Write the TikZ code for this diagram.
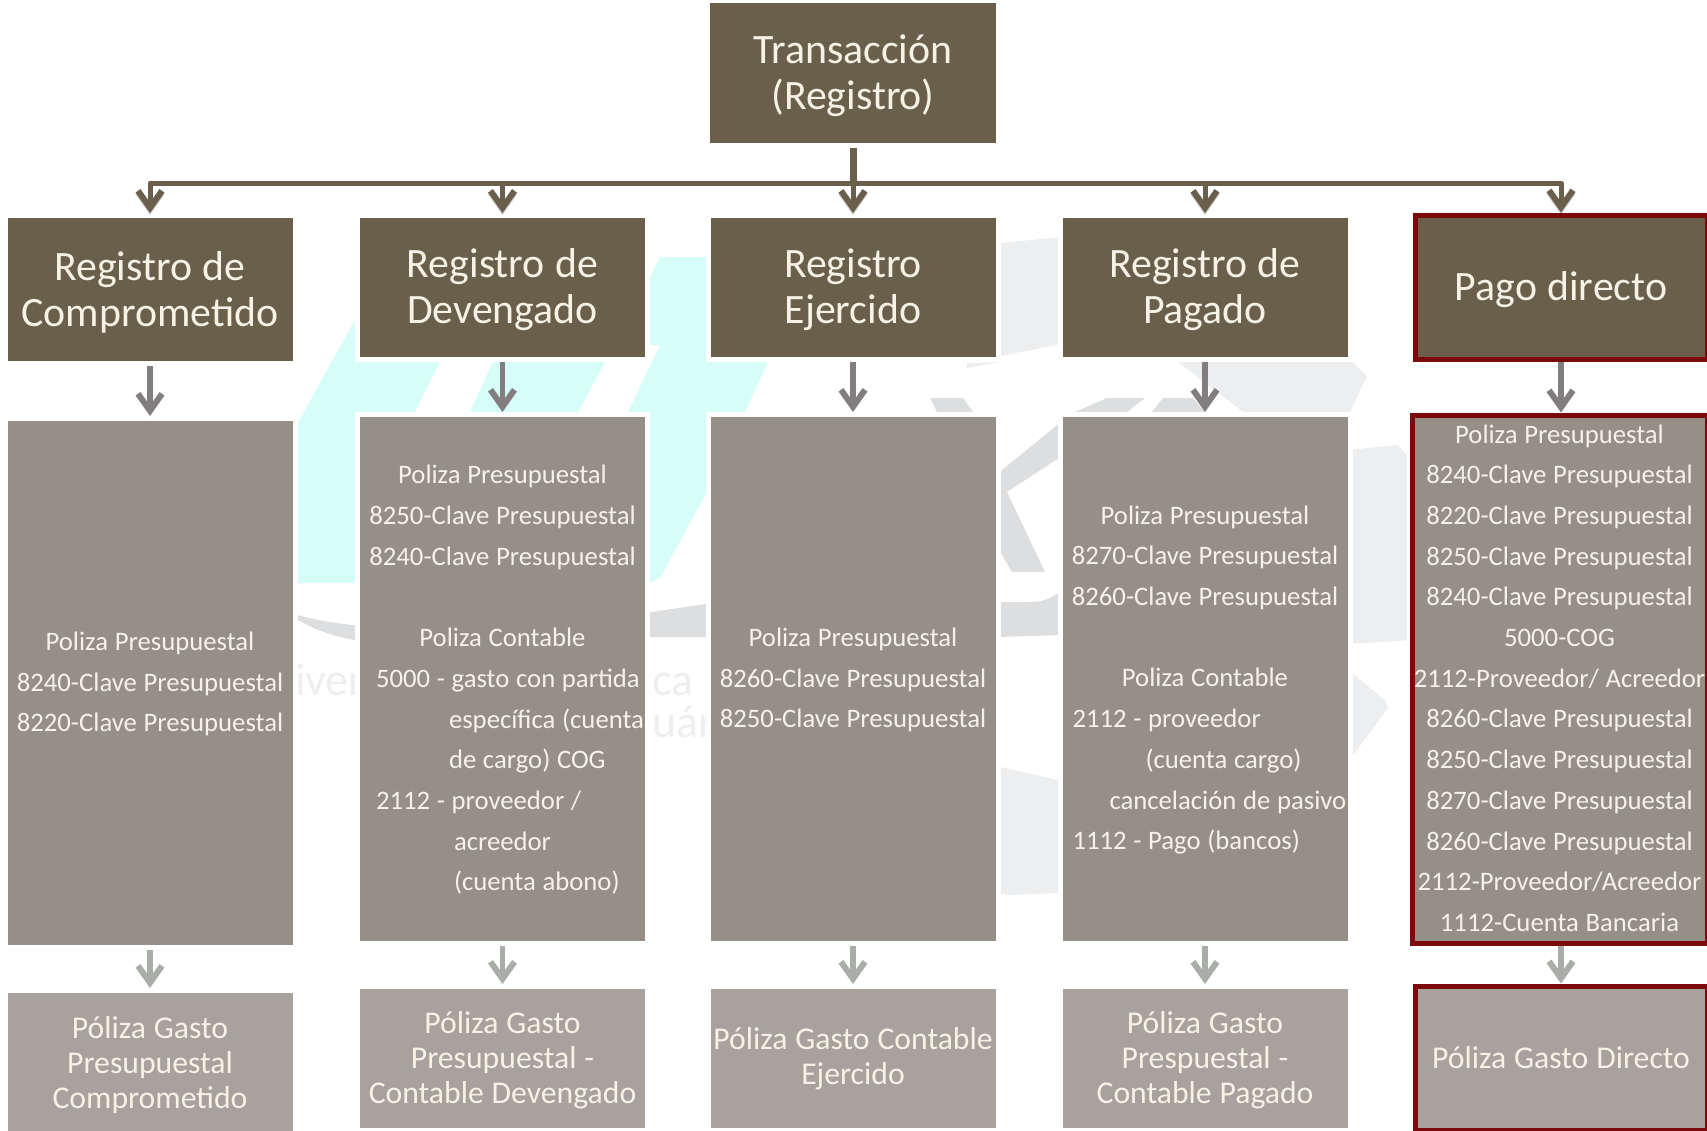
\documentclass[tikz,border=0pt]{standalone}
\usepackage{fontspec}
\setmainfont{Carlito}
\usetikzlibrary{positioning, arrows.meta}
\definecolor{dark_brown}{HTML}{6A5F4A}
\definecolor{mid_grey}{HTML}{968F88}
\definecolor{pale_grey}{HTML}{A7A29D}
\definecolor{mid_arrow_grey}{HTML}{827D7E}
\definecolor{low_arrow_grey}{HTML}{A9ADA8}
\definecolor{dark_red}{HTML}{7B0A0C}
\definecolor{cream}{HTML}{F6F2E6}
\definecolor{mark_cyan}{HTML}{D6FDF7}
\definecolor{mark_grey}{HTML}{DDDEDF}
\definecolor{mark_light}{HTML}{EDEEF0}
\newcommand{\tabline}[2]{\makebox[285pt][l]{\hspace{#1pt}#2}}

\begin{document}
\begin{tikzpicture}
[
    x=1pt, y=-1pt, on grid, inner sep=0pt, outer sep=0pt,
    base_node/.style={rectangle, align=center, text=cream, text width=285pt, preaction={draw=white, line width=10pt}},
    title_node/.style={base_node, fill=dark_brown, minimum height=139pt, font=\fontsize{41.8}{46}\selectfont, execute at begin node={\spaceskip=0.25em\relax\rule{0pt}{34pt}}},
    list_node/.style={base_node, fill=mid_grey, minimum height=524pt, font=\fontsize{26.7}{40.7}\selectfont, execute at begin node={\spaceskip=0.25em\relax}},
    list_low/.style={list_node, execute at begin node={\rule{0pt}{20.5pt}}},
    poliza_node/.style={base_node, fill=pale_grey, minimum height=139pt, font=\fontsize{31.7}{35}\selectfont, execute at begin node={\spaceskip=0.25em\relax}},
    red_border/.style={draw=dark_red, line width=5pt},
    mark_text/.style={anchor=base west, text width=, text=mark_light, font=\fontsize{46}{46}\selectfont},
    top_arrow/.style={-{Straight Barb[length=17pt, width=24pt, line width=6pt]}, line width=5pt, color=dark_brown, line join=round, shorten <=5pt, shorten >=5pt,
        preaction={draw=black, draw opacity=0.2, transform canvas={yshift=-2pt}}},
    mid_arrow/.style={-{Straight Barb[length=17pt, width=24pt, line width=6pt]}, line width=5.5pt, color=mid_arrow_grey, shorten <=5pt, shorten >=5pt},
    low_arrow/.style={-{Straight Barb[length=17pt, width=24pt, line width=6pt]}, line width=5.5pt, color=low_arrow_grey, shorten <=5pt, shorten >=5pt},
]
    \useasboundingbox (0,0) rectangle (1707,1130);
    % watermark behind the boxes
    \fill[mark_cyan] (285,446) -- (366,300) -- (440,300) -- (440,362) -- (415,412) -- (415,583) -- (285,583) -- cycle;
    \fill[mark_cyan] (493,362) -- (605,362) -- (578,412) -- (470,412) -- cycle;
    \fill[mark_cyan] (660,257) -- (720,257) -- (720,362) -- (768,362) -- (745,412) -- (720,412) -- (720,467) -- (706,493) -- (663,573) .. controls (658,580) and (654,582) .. (648,582) -- (630,582) -- (630,412) -- (628,412) -- (660,345) -- (630,345) -- (630,290) -- (646,285) -- cycle;
    \fill[mark_grey] (298,615) .. controls (315,620) and (335,623) .. (360,626) -- (360,641) .. controls (335,637) and (315,630) .. (298,620) -- cycle;
    \fill[mark_grey] (645,613) -- (712,603) -- (712,637) -- (645,637) -- cycle;
    \fill[mark_light] (1000,243) -- (1062,237) -- (1062,344) -- (1000,356) -- cycle;
    \fill[mark_light] (967,363) -- (1000,362) -- (967,368) -- cycle;
    \fill[mark_grey] (930,398) -- (963,398) -- (973,412) -- (937,412) -- cycle;
    \fill[mark_grey] (1075,412) -- (1107,398) -- (1145,398) -- (1127,412) -- cycle;
    \fill[mark_grey] (1152,412) -- (1163,398) -- (1193,398) -- (1205,412) -- cycle;
    \fill[mark_light] (1178,362) -- (1352,362) -- (1367,376) -- (1350,412) -- (1243,412) -- cycle;
    \fill[mark_grey] (1062,421) -- (996,475) -- (996,545) -- (1012,572) -- (1045,572) -- (1007,492) -- (1062,456) -- cycle;
    \fill[mark_grey] (1062,590) .. controls (1050,600) and (1040,602) .. (1030,602) -- (996,602) -- (996,637) -- (1062,635) -- cycle;
    \fill[mark_light] (996,766) -- (1062,781) -- (1062,893) -- (1010,895) -- (996,893) -- cycle;
    \fill[mark_light] (1348,450) -- (1397,445) -- (1413,460) -- (1413,640) -- (1348,644) -- cycle;
    \fill[mark_light] (1348,670) -- (1385,700) -- (1388,708) -- (1348,762) -- cycle;
    \node[mark_text] (mark_a) at (295,695) {iver};
    \node[mark_text] (mark_b) at (652,695) {ca};
    \node[mark_text] (mark_c) at (652,737) {uár};
    % top box and first row
    \node[title_node, text width=286pt, minimum height=140pt] (trans) at (853,73) {Transacción\\(Registro)};
    \coordinate[below = 110pt of trans] (bus);
    \node[title_node] (reg3) [below = 214.5pt of trans] {Registro\\Ejercido};
    \node[title_node] (reg2) [left = 350.5pt of reg3] {Registro de\\Devengado};
    \node[title_node, minimum height=143pt] (reg1) [left = 352.5pt of reg2, yshift=-2pt] {Registro de\\Comprometido};
    \node[title_node] (reg4) [right = 352pt of reg3] {Registro de\\Pagado};
    \node[title_node, red_border, text width=292pt, minimum height=144pt] (reg5) [right = 356pt of reg4] {Pago directo};
    % second row
    \node[list_low] (list1) [below = 393.5pt of reg1] {Poliza Presupuestal\\8240-Clave Presupuestal\\8220-Clave Presupuestal};
    \node[list_low] (list2) [below = 391.5pt of reg2] {Poliza Presupuestal\\8250-Clave Presupuestal\\8240-Clave Presupuestal\\~\\Poliza Contable\\\tabline{16}{5000 - gasto con partida}\\\tabline{89}{específica (cuenta}\\\tabline{89}{de cargo) COG}\\\tabline{16}{2112 - proveedor /}\\\tabline{94}{acreedor}\\\tabline{94}{(cuenta abono)}};
    \node[list_low] (list3) [below = 391.5pt of reg3] {Poliza Presupuestal\\8260-Clave Presupuestal\\8250-Clave Presupuestal};
    \node[list_low] (list4) [below = 391.5pt of reg4] {Poliza Presupuestal\\8270-Clave Presupuestal\\8260-Clave Presupuestal\\~\\Poliza Contable\\\tabline{10}{2112 - proveedor}\\\tabline{83}{(cuenta cargo)}\\\tabline{47}{cancelación de pasivo}\\\tabline{10}{1112 - Pago (bancos)}};
    \node[list_node, red_border, text width=295pt, minimum height=528pt] (list5) [below = 392pt of reg5, xshift=-1.5pt] {Poliza Presupuestal\\8240-Clave Presupuestal\\8220-Clave Presupuestal\\8250-Clave Presupuestal\\8240-Clave Presupuestal\\5000-COG\\2112-Proveedor/ Acreedor\\8260-Clave Presupuestal\\8250-Clave Presupuestal\\8270-Clave Presupuestal\\8260-Clave Presupuestal\\2112-Proveedor/Acreedor\\1112-Cuenta Bancaria\rule[-3pt]{0pt}{0pt}};
    % third row
    \node[poliza_node, minimum height=140pt] (pol1) [below = 380pt of list1] {\rule{0pt}{25.5pt}Póliza Gasto\\Presupuestal\\Comprometido};
    \node[poliza_node] (pol2) [below = 379.5pt of list2] {\rule{0pt}{24.5pt}Póliza Gasto\\Presupuestal -\\Contable Devengado};
    \node[poliza_node] (pol3) [below = 379.5pt of list3] {Póliza Gasto Contable\\Ejercido};
    \node[poliza_node] (pol4) [below = 379.5pt of list4] {\rule{0pt}{24.5pt}Póliza Gasto\\Prespuestal -\\Contable Pagado};
    \node[poliza_node, red_border, text width=292pt, minimum height=143.5pt] (pol5) [below = 378.75pt of list5, xshift=1.5pt] {\raisebox{2pt}{Póliza Gasto Directo}};
    % connectors
    \draw[top_arrow] (trans.south) -- (bus) -| (reg1.north);
    \draw[top_arrow] (trans.south) -- (bus) -| (reg2.north);
    \draw[top_arrow] (trans.south) -- (reg3.north);
    \draw[top_arrow] (trans.south) -- (bus) -| (reg4.north);
    \draw[top_arrow, shorten >=3pt] (trans.south) -- (bus) -| (reg5.north);
    \draw[line width=7pt, color=dark_brown, shorten <=5pt] (trans.south) -- (bus);
    \draw[mid_arrow] (reg1) -- (list1);
    \draw[mid_arrow] (reg2) -- (list2);
    \draw[mid_arrow] (reg3) -- (list3);
    \draw[mid_arrow] (reg4) -- (list4);
    \draw[mid_arrow, shorten <=2pt, shorten >=3pt] (reg5.south) -- (reg5.south |- list5.north);
    \draw[low_arrow] (list1) -- (pol1);
    \draw[low_arrow] (list2) -- (pol2);
    \draw[low_arrow] (list3) -- (pol3);
    \draw[low_arrow] (list4) -- (pol4);
    \draw[low_arrow, shorten <=2pt, shorten >=3pt] (pol5.north |- list5.south) -- (pol5.north);
\end{tikzpicture}
\end{document}
